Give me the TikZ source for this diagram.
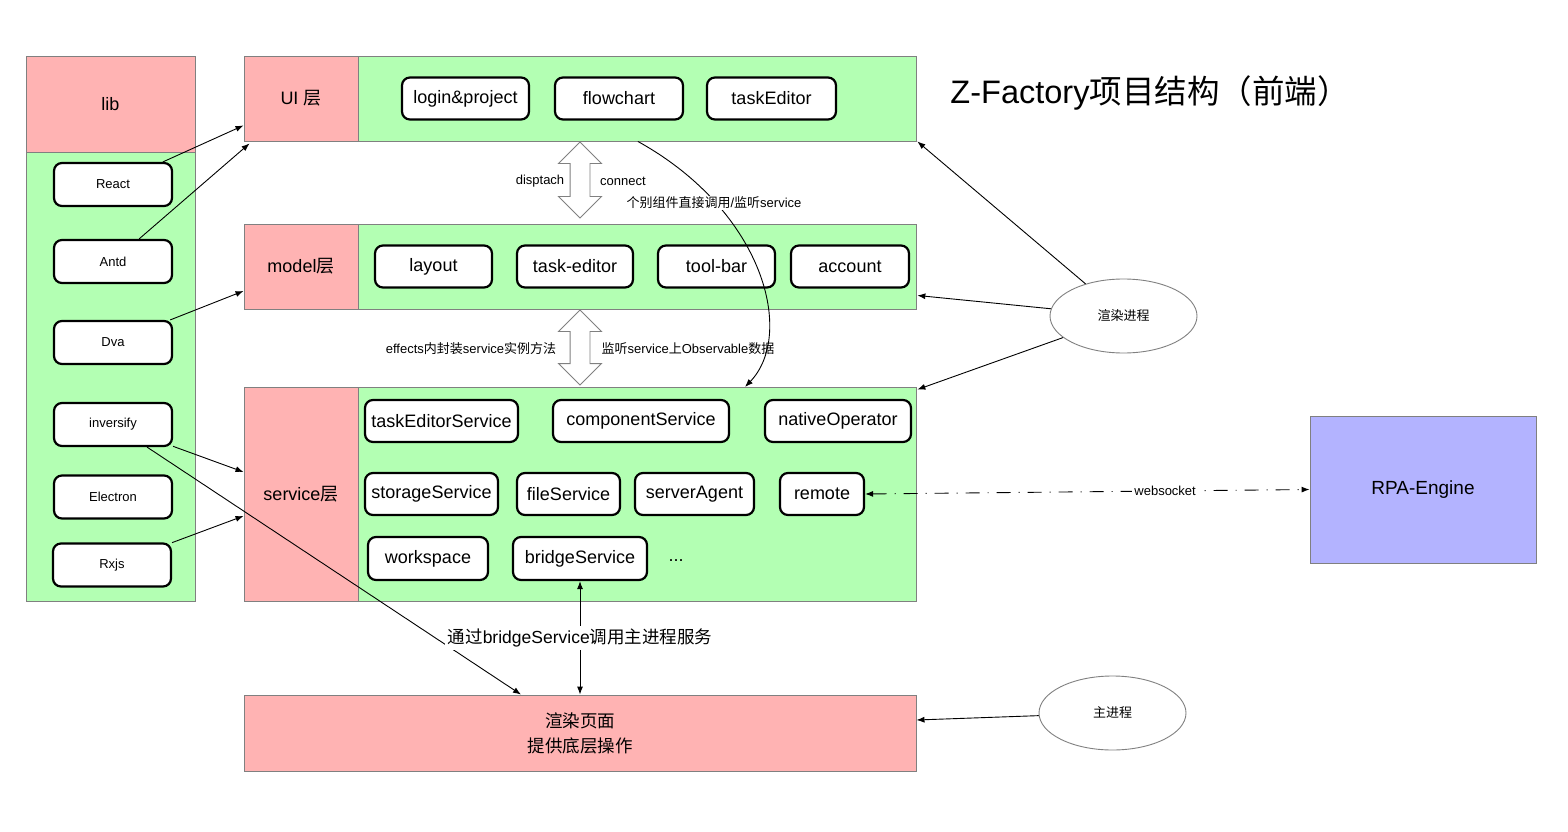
\documentclass[tikz,border=0pt]{standalone}
\usepackage{fontspec}
\setmainfont{Liberation Sans}
\newfontfamily\cjk{Noto Sans CJK SC}
\usepackage{xcolor}
\usetikzlibrary{positioning}
\usetikzlibrary{shapes.geometric}
\usetikzlibrary{shapes.arrows}
\usetikzlibrary{arrows.meta}
\usetikzlibrary{calc}

\definecolor{tagpink}{RGB}{255,179,179}
\definecolor{bodygreen}{RGB}{179,255,179}
\definecolor{enginepurple}{RGB}{179,179,255}

\begin{document}
\begin{tikzpicture}[
  x=1pt, y=-1pt,
  font=\fontsize{18}{21}\selectfont,
  layer/.style={draw=gray, line width=0.9pt, inner sep=0pt, align=center},
  tag/.style={layer, fill=tagpink},
  body/.style={layer, fill=bodygreen},
  box/.style={draw, line width=2.2pt, rounded corners=8pt, fill=white, inner sep=0pt, minimum height=42pt},
  libbox/.style={box, minimum width=118pt, minimum height=43pt, font=\fontsize{13}{15}\selectfont},
  proc/.style={ellipse, draw=gray, line width=0.9pt, fill=white, minimum width=147pt, minimum height=74pt, font=\fontsize{13}{15}\selectfont},
  hollow/.style={double arrow, draw=gray, line width=0.9pt, fill=white, shape border rotate=90, inner sep=9.5pt, minimum width=42pt, double arrow head extend=11.5pt, double arrow head indent=0pt},
  arrow/.style={-{Latex[length=8pt,width=6pt]}, line width=0.9pt},
  twoway/.style={{Latex[length=8pt,width=6pt]}-{Latex[length=8pt,width=6pt]}, line width=0.9pt},
  note/.style={font=\fontsize{13}{15}\selectfont}
]
\useasboundingbox (0,0) rectangle (1568,832);

% lib column
\node[tag, minimum width=169pt, minimum height=96pt] (libhead) at (110.5,104) {lib};
\node[body, minimum width=169pt, minimum height=449pt, below=0pt of libhead] (libbody) {};
\node[libbox] (react) at (113,184.5) {React};
\node[libbox] (antd) at (113,261.5) {Antd};
\node[libbox] (dva) at (113,342.5) {Dva};
\node[libbox] (inversify) at (113,424.5) {inversify};
\node[libbox] (electron) at (113,497) {Electron};
\node[libbox] (rxjs) at (112,565) {Rxjs};

% UI layer
\node[tag, minimum width=114pt, minimum height=85pt] (uitag) at (301,98.5) {UI {\cjk 层}};
\node[body, minimum width=558pt, minimum height=85pt, right=0pt of uitag] (uibody) {};
\node[box, minimum width=127pt] (login) at (465.5,98.5) {login\&project};
\node[box, minimum width=128pt] (flowchart) at (619,98.5) {flowchart};
\node[box, minimum width=129pt] (taskeditor) at (771.5,98.5) {taskEditor};

\node[font=\fontsize{32.5}{38}\selectfont] (title) at (1150,93) {Z-Factory{\cjk 项目结构（前端）}};

% model layer
\node[tag, minimum width=114pt, minimum height=85pt] (modeltag) at (301,266.5) {model{\cjk 层}};
\node[body, minimum width=558pt, minimum height=85pt, right=0pt of modeltag] (modelbody) {};
\node[box, minimum width=117pt] (layout) at (433.5,266.5) {layout};
\node[box, minimum width=116pt] (taskedit) at (575,266.5) {task-editor};
\node[box, minimum width=117pt] (toolbar) at (716.5,266.5) {tool-bar};
\node[box, minimum width=118pt] (account) at (850,266.5) {account};

% service layer
\node[tag, minimum width=114pt, minimum height=214pt] (svctag) at (301,494) {service{\cjk 层}};
\node[body, minimum width=558pt, minimum height=214pt, right=0pt of svctag] (svcbody) {};
\node[box, minimum width=153pt] (taskeditorsvc) at (441.5,421) {taskEditorService};
\node[box, minimum width=176pt] (componentsvc) at (641,421) {componentService};
\node[box, minimum width=146pt] (nativeop) at (838,421) {nativeOperator};
\node[box, minimum width=133pt] (storagesvc) at (431.5,494) {storageService};
\node[box, minimum width=103pt] (filesvc) at (568.5,494) {fileService};
\node[box, minimum width=119pt] (serveragent) at (694.5,494) {serverAgent};
\node[box, minimum width=84pt] (remote) at (822,494) {remote};
\node[box, minimum width=120pt, minimum height=43pt] (workspace) at (428,558.5) {workspace};
\node[box, minimum width=134pt, minimum height=43pt] (bridge) at (580,558.5) {bridgeService};
\node (more) at (676,561) {...};

% bottom layer
\node[tag, minimum width=672pt, minimum height=76pt, font=\fontsize{17.5}{25}\selectfont] (render) at (580,733) {{\cjk 渲染页面}\\{\cjk 提供底层操作}};

% processes and engine
\node[tag, fill=enginepurple, minimum width=226pt, minimum height=147pt, font=\fontsize{19}{22}\selectfont] (engine) at (1423,489.5) {RPA-Engine};
\node[proc] (renderproc) at (1123.5,316) {{\cjk 渲染进程}};
\node[proc] (mainproc) at (1112.5,713) {{\cjk 主进程}};

% lib -> layers
\draw[arrow] (react) -- ($(uitag.south west)+(0,-16)$);
\draw[arrow] (antd) -- ($(uitag.south west)+(6,2)$);
\draw[arrow] (dva) -- ($(modeltag.west)+(0,24.5)$);
\draw[arrow] (inversify) -- ($(svctag.west)+(0,-22)$);
\draw[arrow] (rxjs) -- ($(svctag.west)+(0,22)$);
\draw[arrow] (inversify) -- ($(render.north)+(-59,0)$);

% between layers
\node[hollow, minimum height=76pt] (uimodel) at (580,180) {};
\node[note] (dispatch) at (540,181) {disptach};
\node[note] (connect) at (623,181) {connect};
\node[hollow, minimum height=75pt] (modelsvc) at (580,347.5) {};
\node[note] (effects) at (471,349) {effects{\cjk 内封装}service{\cjk 实例方法}};
\node[note] (observe) at (688,349) {{\cjk 监听}service{\cjk 上}Observable{\cjk 数据}};

\coordinate (callend) at (745,387);
\draw[arrow] (uibody.south) .. controls (765,212) and (795,335) .. (callend);
\node[note, fill=white, inner sep=1pt] (direct) at (714,203) {{\cjk 个别组件直接调用}/{\cjk 监听}service};

% processes -> layers
\draw[arrow] (renderproc) -- (uibody.south east);
\draw[arrow] (renderproc) -- ($(modelbody.south east)+(0,-14)$);
\draw[arrow] (renderproc) -- ($(svcbody.north east)+(0,3)$);
\draw[arrow] (mainproc) -- ($(render.east)+(0,-13)$);

\draw[twoway, dash pattern=on 14pt off 8pt on 1pt off 8pt] (remote.east) -- node[pos=0.675, note, fill=white, inner sep=2pt] {websocket} (engine.west);
\draw[twoway] (bridge.south) -- node[fill=white, font=\fontsize{17.5}{20}\selectfont, inner sep=3pt] {{\cjk 通过}bridgeService{\cjk 调用主进程服务}} (render.north);

\end{tikzpicture}
\end{document}
